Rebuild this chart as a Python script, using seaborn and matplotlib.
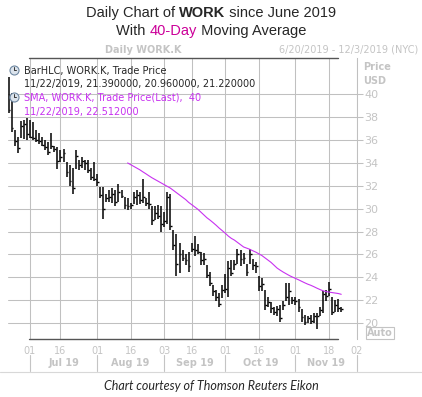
## Daily HLC chart of WORK.K with a 40-day moving average
import numpy as np
import pandas as pd
import matplotlib.pyplot as plt
import seaborn as sns
from matplotlib.lines import Line2D

## Data (trading days 6/20/2019 - 11/22/2019)
highs = [41.5, 40.1, 36.9, 36.3, 37.7, 37.8, 37.9, 37.8, 37.6, 36.9,
         36.6, 36.3, 36.0, 35.8, 36.6, 35.5, 35.4, 35.1, 35.2, 34.1,
         33.8, 33.6, 35.1, 34.3, 34.5, 34.3, 34.3, 33.6, 34.1, 33.0,
         31.9, 31.9, 31.3, 31.6, 31.8, 31.6, 32.2, 31.6, 31.0, 30.9,
         30.5, 31.5, 31.6, 31.5, 32.6, 30.9, 31.5, 30.2, 30.2, 30.3,
         30.2, 29.7, 31.5, 31.3, 28.1, 27.8, 27.0, 26.4, 26.0, 26.2,
         27.0, 27.6, 26.9, 26.2, 26.1, 25.1, 24.5, 23.3, 22.9, 22.6,
         23.3, 24.3, 25.4, 25.5, 25.5, 26.5, 26.4, 26.1, 25.2, 26.5,
         25.6, 25.3, 24.1, 23.9, 22.9, 22.3, 21.8, 21.4, 21.5, 21.6,
         21.9, 23.5, 23.5, 22.3, 22.3, 22.1, 21.2, 20.7, 20.6, 20.7,
         20.9, 20.9, 21.4, 22.8, 22.9, 23.6, 22.3, 22.0, 22.1, 21.39]
lows = [38.4, 36.7, 35.5, 34.9, 36.2, 36.1, 36.0, 36.2, 36.0, 35.8,
        35.7, 35.5, 35.1, 34.7, 35.2, 35.0, 33.5, 34.1, 34.1, 32.8,
        32.0, 31.3, 33.5, 33.4, 33.6, 33.4, 33.1, 32.5, 32.4, 32.0,
        30.9, 29.1, 30.6, 30.6, 30.5, 30.2, 30.6, 30.9, 30.0, 29.9,
        30.0, 30.4, 30.3, 30.4, 30.5, 30.2, 30.0, 28.6, 29.0, 29.1,
        28.0, 28.4, 28.7, 28.1, 26.4, 24.1, 24.4, 25.4, 25.1, 24.5,
        26.2, 25.9, 26.0, 25.1, 25.1, 23.9, 23.2, 22.4, 21.9, 21.4,
        22.2, 22.6, 22.3, 24.1, 24.6, 25.2, 25.0, 25.2, 24.1, 25.2,
        24.6, 24.4, 22.8, 22.8, 21.1, 21.4, 20.9, 20.7, 20.6, 20.1,
        21.1, 21.9, 21.6, 21.7, 21.6, 21.0, 20.1, 19.8, 20.0, 19.9,
        20.0, 19.5, 20.6, 20.9, 21.9, 22.4, 20.7, 21.0, 21.0, 20.96]
closes = [38.6, 37.1, 35.9, 35.3, 37.2, 37.4, 36.5, 36.3, 36.2, 36.0,
          35.9, 35.6, 35.4, 35.0, 35.5, 35.2, 34.2, 34.5, 34.9, 33.2,
          32.4, 31.8, 34.6, 33.8, 34.2, 34.0, 33.4, 32.8, 32.6, 32.3,
          31.2, 30.0, 30.9, 31.0, 31.3, 30.6, 31.5, 31.1, 30.3, 30.2,
          30.3, 31.0, 31.2, 30.8, 31.0, 30.5, 30.4, 29.0, 29.6, 29.4,
          28.7, 28.9, 31.0, 28.5, 26.8, 25.2, 26.0, 25.7, 25.5, 25.0,
          26.5, 26.4, 26.2, 25.5, 25.6, 24.2, 23.5, 22.8, 22.3, 21.7,
          22.9, 23.0, 24.8, 24.4, 25.2, 26.0, 25.6, 25.7, 24.5, 26.0,
          25.1, 25.0, 23.2, 23.4, 21.6, 21.8, 21.3, 21.0, 21.2, 20.4,
          21.6, 22.3, 22.8, 22.0, 21.9, 21.4, 20.5, 20.1, 20.4, 20.2,
          20.6, 20.6, 21.1, 22.5, 22.4, 23.0, 21.0, 21.6, 21.3, 21.22]
# 40-day SMA as drawn, starting on the 40th trading day
sma_values = [34.00, 33.85, 33.70, 33.55, 33.40, 33.22, 33.05, 32.87, 32.70, 32.55,
              32.40, 32.25, 32.10, 31.95, 31.80, 31.60, 31.40, 31.20, 31.00, 30.80,
              30.55, 30.35, 30.15, 29.95, 29.70, 29.45, 29.20, 29.00, 28.78, 28.55,
              28.30, 28.08, 27.85, 27.60, 27.40, 27.25, 27.05, 26.85, 26.65, 26.55,
              26.45, 26.32, 26.20, 26.05, 25.90, 25.70, 25.50, 25.30, 25.05, 24.80,
              24.62, 24.45, 24.30, 24.15, 24.02, 23.90, 23.78, 23.65, 23.52, 23.40,
              23.30, 23.18, 23.05, 22.93, 22.82, 22.75, 22.70, 22.66, 22.62, 22.58,
              22.51]
tick_dates = ["2019-07-01", "2019-07-16", "2019-08-01", "2019-08-16", "2019-09-03", "2019-09-16",
              "2019-10-01", "2019-10-16", "2019-11-01", "2019-11-18", "2019-12-02"]
tick_labels = ["01", "16", "01", "16", "03", "16", "01", "16", "01", "18", "02"]
month_starts = ["2019-07-01", "2019-08-01", "2019-09-03", "2019-10-01", "2019-11-01", "2019-12-02"]
month_labels = ["Jul 19", "Aug 19", "Sep 19", "Oct 19", "Nov 19"]
price_ticks = [20, 22, 24, 26, 28, 30, 32, 34, 36, 38, 40]
holidays = ["2019-07-04", "2019-09-02", "2019-11-28"]

## Trading-day axis (no weekends / holidays)
trading_days = pd.bdate_range("2019-06-20", "2019-12-03")
trading_days = trading_days[~trading_days.isin(pd.to_datetime(holidays))]
day_pos = {d: i for i, d in enumerate(trading_days)}

df = pd.DataFrame({"date": trading_days[:len(closes)], "high": highs, "low": lows, "close": closes})
df["idx"] = [day_pos[d] for d in df["date"]]
sma_df = pd.DataFrame({"idx": df["idx"].iloc[len(df) - len(sma_values):].values, "sma": sma_values})

tick_pos = [day_pos[pd.Timestamp(d)] for d in tick_dates]
month_pos = [day_pos[pd.Timestamp(d)] for d in month_starts]

## Figure
sns.set_style("white")
plt.rcParams["font.family"] = ["DejaVu Sans"]
W, H = 422, 397
fig = plt.figure(figsize=(W / 100, H / 100), dpi=100)
ax = fig.add_axes([8 / W, 1 - 339 / H, 348.5 / W, 281 / H])

light = "#c4c4c4"
sma_color = "#c832f0"

# HLC bars
ax.vlines(df["idx"], df["low"], df["high"], color="black", lw=1.1)
ax.hlines(df["close"], df["idx"], df["idx"] + 0.6, color="black", lw=1.0)

# moving average
sns.lineplot(data=sma_df, x="idx", y="sma", ax=ax, color=sma_color, lw=0.8)

ax.set_xlim(-0.2, 114)
ax.set_ylim(18.6, 43.18)
ax.set_xlabel("")
ax.set_ylabel("")

ax.set_xticks(tick_pos, tick_labels)
ax.set_yticks(price_ticks)
ax.grid(True, color="#c0c0c0", lw=0.75)
ax.set_axisbelow(True)
ax.yaxis.tick_right()
ax.tick_params(axis="x", length=0, labelcolor=light, labelsize=7, pad=5)
ax.tick_params(axis="y", length=4.5, width=0.75, color="#c0c0c0", labelcolor=light, labelsize=8, pad=1)
for s in ["left", "top", "bottom"]:
    ax.spines[s].set_visible(False)
ax.spines["right"].set_color("#c0c0c0")
ax.spines["right"].set_linewidth(0.75)

# dark range lines at top and bottom
xt = ax.get_xaxis_transform()
for yy in [0, 1]:
    ax.plot([6.7, 108], [yy, yy], transform=xt, color="#555555", lw=1.0, clip_on=False)

# month labels and separators
for i in range(len(month_labels)):
    mid = (month_pos[i] + month_pos[i + 1]) / 2
    ax.text(mid, -0.085, month_labels[i], transform=xt, ha="center", va="center",
            color=light, fontsize=7, weight="bold")
for p in month_pos:
    ax.plot([p, p], [-0.057, -0.114], transform=xt, color=light, lw=0.8, clip_on=False)

fig.add_artist(Line2D([0, 1], [1 - 372 / H] * 2, color="#d8d8d8", lw=0.8))

## Titles
def centered_line(parts, y_px):
    texts = []
    for s, kw in parts:
        texts.append(fig.text(0, 1 - y_px / H, s, va="baseline", fontsize=10.5,
                              family=["Liberation Sans", "DejaVu Sans"], **kw))
    renderer = fig.canvas.get_renderer()
    widths = [t.get_window_extent(renderer).width for t in texts]
    x = (fig.bbox.width - sum(widths)) / 2
    for t, w in zip(texts, widths):
        t.set_x(x / fig.bbox.width)
        x += w

centered_line([("Daily Chart of ", {}), ("WORK", {"weight": "bold"}), (" since June 2019", {})], 16.7)
centered_line([("With ", {}), ("40-Day", {"color": "#cc0099"}), (" Moving Average", {})], 35)

fig.text(105 / W, 1 - 53 / H, "Daily WORK.K", color=light, fontsize=7, weight="bold", va="baseline")
fig.text(418 / W, 1 - 53 / H, "6/20/2019 - 12/3/2019 (NYC)", color=light, fontsize=7, ha="right", va="baseline")
fig.text(363 / W, 1 - 70 / H, "Price", color=light, fontsize=7, weight="bold", va="baseline")
fig.text(363 / W, 1 - 84 / H, "USD", color=light, fontsize=7, weight="bold", va="baseline")
fig.text(380 / W, 1 - 333 / H, "Auto", color=light, fontsize=7, weight="bold", ha="center", va="center",
         bbox=dict(facecolor="white", edgecolor=light, boxstyle="square,pad=0.15", lw=0.8))

## Legend block
fig.text(24 / W, 1 - 74 / H, "BarHLC, WORK.K, Trade Price", fontsize=7, va="baseline")
fig.text(24 / W, 1 - 87 / H, "11/22/2019, 21.390000, 20.960000, 21.220000", fontsize=7, va="baseline")
fig.text(24 / W, 1 - 101 / H, "SMA, WORK.K, Trade Price(Last),  40", fontsize=7, va="baseline", color=sma_color)
fig.text(24 / W, 1 - 115 / H, "11/22/2019, 22.512000", fontsize=7, va="baseline", color=sma_color)
for yy in [70, 97]:
    fig.add_artist(Line2D([14 / W], [1 - yy / H], marker="o", ms=6.5, mfc="#dbe3ec", mec="#6f88a2", mew=0.8))
    fig.add_artist(Line2D([14 / W, 14 / W, 16 / W], [1 - (yy - 3) / H, 1 - yy / H, 1 - yy / H], color="#333333", lw=0.7))

## Caption
fig.text(211 / W, 1 - 386 / H, "Chart courtesy of Thomson Reuters Eikon", fontsize=9, style="italic",
         family=["Lato", "DejaVu Sans"], ha="center", va="center")

fig.savefig("out.png", dpi=100)
